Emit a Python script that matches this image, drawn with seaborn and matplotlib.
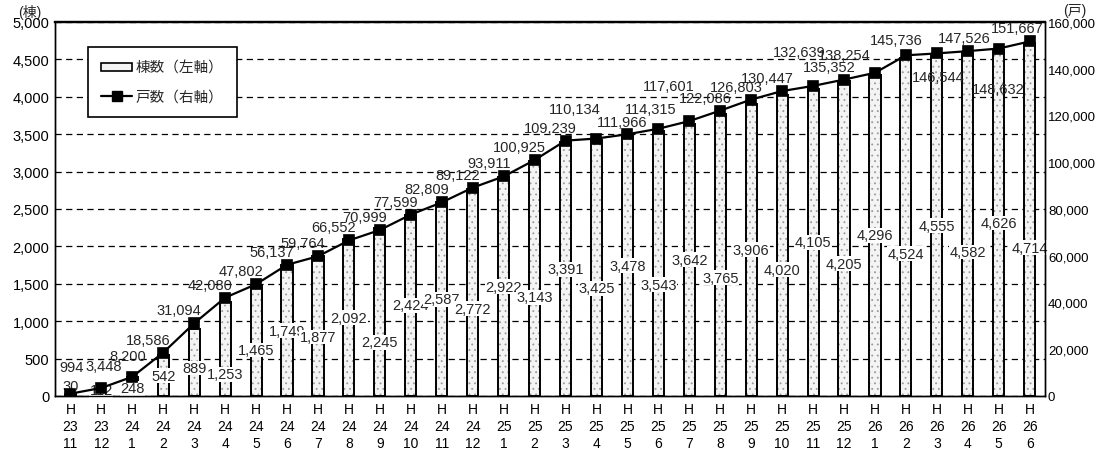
import matplotlib
matplotlib.use("Agg")
import matplotlib.pyplot as plt
import seaborn as sns
import pandas as pd
from matplotlib.patches import Patch
from matplotlib.lines import Line2D
from matplotlib.colors import to_rgba

# ---------------- data ----------------
years = ["23", "23", "24", "24", "24", "24", "24", "24", "24", "24", "24", "24",
         "24", "24", "25", "25", "25", "25", "25", "25", "25", "25", "25", "25",
         "25", "25", "26", "26", "26", "26", "26", "26"]
months = ["11", "12", "1", "2", "3", "4", "5", "6", "7", "8", "9", "10",
          "11", "12", "1", "2", "3", "4", "5", "6", "7", "8", "9", "10",
          "11", "12", "1", "2", "3", "4", "5", "6"]
buildings = [30, 112, 248, 542, 889, 1253, 1465, 1749, 1877, 2092, 2245, 2424,
             2587, 2772, 2922, 3143, 3391, 3425, 3478, 3543, 3642, 3765, 3906, 4020,
             4105, 4205, 4296, 4524, 4555, 4582, 4626, 4714]
units = [994, 3448, 8200, 18586, 31094, 42080, 47802, 56137, 59764, 66552, 70999, 77599,
         82809, 89122, 93911, 100925, 109239, 110134, 111966, 114315, 117601, 122086, 126803, 130447,
         132639, 135352, 138254, 145736, 146544, 147526, 148632, 151667]
legend_bar = "棟数（左軸）"
legend_line = "戸数（右軸）"
left_unit = "(棟)"
right_unit = "(戸)"

labels = [f"H\n{y}\n{m}" for y, m in zip(years, months)]
df = pd.DataFrame({"label": labels, "buildings": buildings, "units": units})

# ---------------- style ----------------
sns.set_theme(style="white")
plt.rcParams["font.family"] = ["Liberation Sans", "Noto Sans CJK JP", "DejaVu Sans"]
plt.rcParams["hatch.linewidth"] = 0.6

fig = plt.figure(figsize=(10.99, 4.52), dpi=100)
ax = fig.add_axes([0.050, 0.1217, 0.901, 0.8275])
ax2 = ax.twinx()

# bars
sns.barplot(data=df, x="label", y="buildings", ax=ax, color="white",
            edgecolor="black", linewidth=1.4, width=0.36, hatch="...",
            saturation=1, zorder=2)
for p in ax.patches:
    try:
        p._hatch_color = to_rgba("#9a9a9a")
    except Exception:
        pass
    p.set_facecolor("#f4f4f4")

ax.set_ylim(0, 5000)
ax.set_yticks(range(0, 5001, 500))
ax.set_yticklabels([f"{v:,}" for v in range(0, 5001, 500)], fontsize=10.5)
ax.set_axisbelow(True)
ax.yaxis.grid(True, color="black", linestyle=(0, (5, 3.5)), linewidth=0.9)
ax.xaxis.grid(False)
ax.set_xlabel("")
ax.set_ylabel("")

# line
sns.pointplot(data=df, x="label", y="units", ax=ax2, color="black", markers="s",
              markersize=6.5, linewidth=1.6, errorbar=None)
ax2.set_ylim(0, 160000)
ax2.set_yticks(range(0, 160001, 20000))
ax2.set_yticklabels([f"{v:,}" for v in range(0, 160001, 20000)], fontsize=9.5)
ax2.set_ylabel("")
ax2.grid(False)
for a in (ax, ax2):
    a.set_xlim(-0.5, len(labels) - 0.5)
    a.tick_params(axis="both", length=0, colors="black")
    for s in a.spines.values():
        s.set_color("black")
        s.set_linewidth(1.0)
    a.spines["top"].set_linewidth(1.6)
ax.tick_params(axis="y", pad=4)
ax2.tick_params(axis="y", pad=2)

# x tick labels
ax.set_xticks(range(len(labels)))
ax.set_xticklabels(labels, fontsize=10, linespacing=1.3)
ax.tick_params(axis="x", pad=4)
for i in range(len(labels)):
    ax.annotate("·", xy=(i, 0), xycoords=("data", "axes fraction"),
                xytext=(0, -35), textcoords="offset pixels",
                ha="center", va="center", fontsize=6, fontweight="bold")

# bar value labels (staggered inside bars)
bar_label_override = {0: 140, 5: 290, 10: 720}
for i, v in enumerate(buildings):
    high = (i % 2 == 0) if i >= 12 else (i % 2 == 1)
    y = v * (0.5 if high else 0.42)
    y = max(y, 75)
    y = bar_label_override.get(i, y)
    ax.text(i, y, f"{v:,}", ha="center", va="center", fontsize=10.5, zorder=5,
            bbox=dict(facecolor="white", edgecolor="none", pad=0.3))

# line value labels
default_off = (-15, 6)
off = {0: (1, 20), 1: (2, 15), 2: (-5, 14), 17: (-22, 23), 18: (-5, 5),
       19: (-8, 13), 20: (-21, 28), 24: (-14, 27), 26: (-31, 11), 27: (-10, 8),
       29: (-4, 6), 31: (-12, 6)}
below = {28: (1, -17), 30: (0, -33)}
for i, v in enumerate(units):
    if i in below:
        dx, dy = below[i]
        va = "top"
    else:
        dx, dy = off.get(i, default_off)
        va = "bottom"
    ax2.annotate(f"{v:,}", xy=(i, v), xytext=(dx, dy), textcoords="offset pixels",
                 ha="center", va=va, fontsize=10.5, zorder=6)

# unit labels
fig.text(30 / 1099, 1 - 12 / 452, left_unit, ha="center", va="center", fontsize=10)
fig.text(1075 / 1099, 1 - 11 / 452, right_unit, ha="center", va="center", fontsize=10)

# legend
bar_handle = Patch(facecolor="#f4f4f4", edgecolor="black", linewidth=1.2)
line_handle = Line2D([0], [0], color="black", linewidth=1.6, marker="s", markersize=6.5)
leg = ax2.legend([bar_handle, line_handle], [legend_bar, legend_line],
                 loc="upper left", bbox_to_anchor=(0.033, 0.933), frameon=True,
                 fancybox=False, framealpha=1, edgecolor="black", fontsize=10.5,
                 handlelength=2.1, handleheight=0.5, handletextpad=0.25,
                 borderpad=0.95, labelspacing=1.0, borderaxespad=0)
leg.get_frame().set_linewidth(1.2)

fig.savefig("out.png", dpi=100)
